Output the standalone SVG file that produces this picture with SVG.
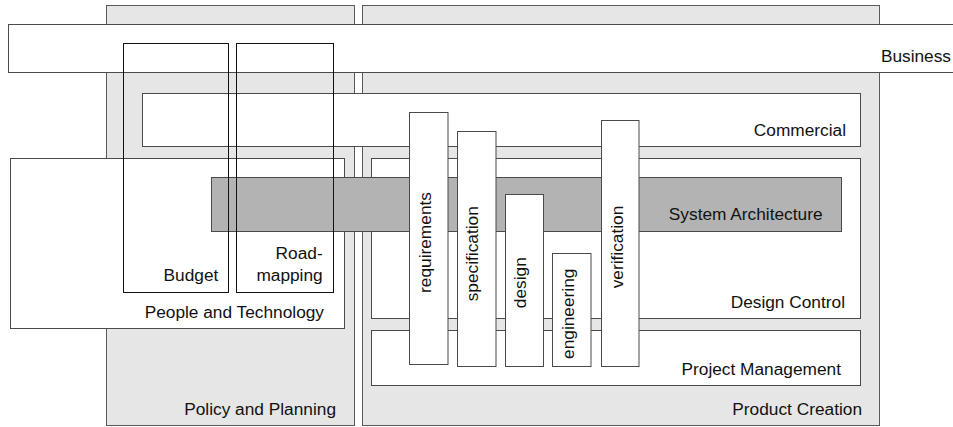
<svg xmlns="http://www.w3.org/2000/svg" width="953" height="427" viewBox="0 0 953 427">
<style>
.area{fill:#e6e6e6;stroke:#5a5a5a;stroke-width:1}
.box{fill:#ffffff;stroke:#4a4a4a;stroke-width:1}
.arch{fill:#b3b3b3;stroke:#4a4a4a;stroke-width:1}
.open{fill:none;stroke:#111;stroke-width:1}
text{font-family:"Liberation Sans",Arial,Helvetica,sans-serif;font-size:17.3px;fill:#111}
.r{text-anchor:end}
.m{text-anchor:middle}
</style>
<rect width="953" height="427" fill="#ffffff"/>
<g id="policy-planning"><rect class="area" x="106.5" y="5.5" width="248" height="420"/><text class="r" x="336" y="415">Policy and Planning</text></g>
<g id="product-creation"><rect class="area" x="362.5" y="5.5" width="517" height="420"/><text class="r" x="862" y="414.5">Product Creation</text></g>
<g id="business"><rect class="box" x="8.5" y="24.5" width="950" height="48"/><text class="r" x="951" y="61.5">Business</text></g>
<g id="commercial"><rect class="box" x="142.5" y="93.5" width="718" height="53"/><text class="r" x="846" y="136">Commercial</text></g>
<g id="people-technology"><rect class="box" x="10.5" y="158.5" width="334" height="170"/><text class="r" x="324" y="317.5">People and Technology</text></g>
<g id="design-control"><rect class="box" x="371.5" y="158.5" width="489" height="160"/><text class="r" x="845" y="307.5">Design Control</text></g>
<g id="project-management"><rect class="box" x="371.5" y="330.5" width="489" height="55"/><text class="r" x="841" y="374.5">Project Management</text></g>
<g id="system-architecture"><rect class="arch" x="211.5" y="177.5" width="630" height="54"/><text class="r" x="822.5" y="219.5">System Architecture</text></g>
<g id="requirements"><rect class="box" x="409.5" y="112.5" width="38.5" height="252"/><text class="m" transform="translate(431 242.5) rotate(-90)">requirements</text></g>
<g id="specification"><rect class="box" x="457.5" y="131.5" width="38.5" height="235"/><text class="m" transform="translate(477.5 253.8) rotate(-90)">specification</text></g>
<g id="design"><rect class="box" x="505.5" y="194.5" width="38" height="172"/><text class="m" transform="translate(525.8 282.7) rotate(-90)">design</text></g>
<g id="engineering"><rect class="box" x="552.5" y="253.5" width="38.5" height="113"/><text class="m" transform="translate(574.3 313.8) rotate(-90)">engineering</text></g>
<g id="verification"><rect class="box" x="601.5" y="120.5" width="37.5" height="246"/><text class="m" transform="translate(623 247) rotate(-90)">verification</text></g>
<g id="budget"><rect class="open" x="123.5" y="43.5" width="105" height="249"/><text class="r" x="218.3" y="281">Budget</text></g>
<g id="roadmapping"><rect class="open" x="236.5" y="43.5" width="97" height="249"/><text class="r" x="322.7" y="259">Road-</text><text class="r" x="322.7" y="281">mapping</text></g>
<g id="connectors"/>
</svg>
